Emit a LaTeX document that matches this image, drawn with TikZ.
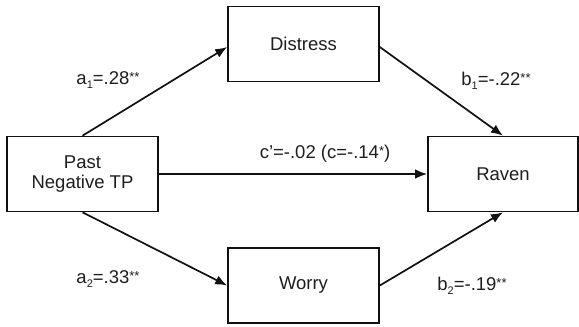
\documentclass[tikz,border=0pt]{standalone}
\usepackage{fontspec}
\setmainfont{Liberation Sans}
\usetikzlibrary{arrows.meta}
\definecolor{ink}{HTML}{111111}
\definecolor{txt}{HTML}{1E1E1E}
\newcommand{\mysub}[1]{\raisebox{-4.5pt}{\fontsize{11}{11}\selectfont #1}}
\newcommand{\myast}[1]{\raisebox{2.5pt}{\fontsize{13}{13}\selectfont #1}}
\begin{document}
\begin{tikzpicture}[x=1pt,y=-1pt,
  box/.style={draw=ink,line width=1.6pt,minimum width=151pt,minimum height=75pt,inner sep=0pt,align=center,text=txt,font=\fontsize{18.5}{20}\selectfont},
  arr/.style={draw=ink,line width=1.7pt,-{Latex[length=12pt,width=9.5pt]}},
  lab/.style={anchor=base,text=txt,inner sep=0pt,font=\fontsize{18.5}{20}\selectfont}]
\useasboundingbox (0,0) rectangle (579,327);
\node[box] (distress) at (303.5,44) {Distress};
\node[box] (past) at (82.5,174) {Past\\Negative TP};
\node[box,minimum width=150pt] (raven) at (503,174) {Raven};
\node[box] (worry) at (303.5,285.5) {Worry};
\draw[arr] (past.north) -- ([yshift=-3pt]distress.west);
\draw[arr] ([yshift=-3pt]distress.east) -- (raven.north);
\draw[arr] (past.east) -- (raven.west);
\draw[arr] (past.south) -- (worry.west);
\draw[arr] (worry.east) -- (raven.south);
\node[lab] (la1) at (108,84) {a\mysub{1}=.28\myast{**}};
\node[lab] (lb1) at (496,85) {b\mysub{1}=-.22\myast{**}};
\node[lab] (lc) at (325,158) {c'=-.02 (c=-.14\myast{*})};
\node[lab] (la2) at (108,283) {a\mysub{2}=.33\myast{**}};
\node[lab] (lb2) at (472,290) {b\mysub{2}=-.19\myast{**}};
\end{tikzpicture}
\end{document}
